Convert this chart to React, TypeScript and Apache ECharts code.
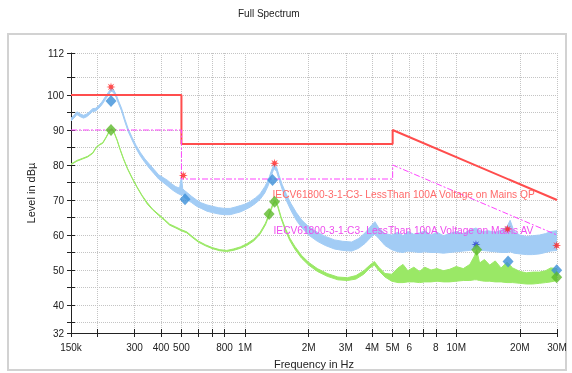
import React, { useEffect, useRef } from 'react';
import * as echarts from 'echarts';

const FONT = '"Liberation Sans", Arial, Helvetica, sans-serif';

// ---- axis ticks / labels ----
const xTickFreqs = [150e3, 200e3, 300e3, 400e3, 500e3, 600e3, 700e3, 800e3, 1e6, 2e6, 3e6, 4e6, 5e6, 6e6, 7e6, 8e6, 10e6, 20e6, 30e6];
const xLabelFreqs = [150e3, 300e3, 400e3, 500e3, 800e3, 1e6, 2e6, 3e6, 4e6, 5e6, 6e6, 8e6, 10e6, 20e6, 30e6];
const xLabelTexts = ['150k', '300', '400', '500', '800', '1M', '2M', '3M', '4M', '5M', '6', '8', '10M', '20M', '30M'];
const yTickValues = [32, 35, 40, 45, 50, 55, 60, 65, 70, 75, 80, 85, 90, 95, 100, 105, 112];
const yLabelValues = [32, 40, 50, 60, 70, 80, 90, 100, 112];

// ---- limit lines [Hz, dB] ----
const qpLimit = [[150e3, 100], [500e3, 100], [500e3, 86], [5e6, 86], [5e6, 90], [30e6, 70]];
const avLimit = [[150e3, 90], [500e3, 90], [500e3, 76], [5e6, 76], [5e6, 80], [30e6, 60]];

// ---- measured traces [Hz, low dB, high dB] ----
const qpTrace: number[][] = [
  [150e3, 92.6, 93.4], [155e3, 93.4, 94.2], [160e3, 94.4, 95.2], [166e3, 93.8, 94.6], [172e3, 93.4, 94.2],
  [178e3, 93.8, 94.6], [184e3, 94.5, 95.3], [190e3, 95.3, 96.1], [196e3, 95.4, 96.2], [203e3, 96.2, 97.0],
  [210e3, 97.2, 98.0], [218e3, 98.7, 99.5], [225e3, 99.9, 100.7], [232e3, 101.1, 101.9], [238e3, 100.8, 101.6],
  [245e3, 99.4, 100.2], [252e3, 97.5, 98.3], [260e3, 95.5, 96.3], [270e3, 92.3, 93.1], [280e3, 89.5, 90.3],
  [292e3, 87.1, 87.9], [305e3, 84.7, 85.6], [320e3, 82.5, 83.5], [336e3, 80.7, 81.7], [352e3, 79.1, 80.3],
  [370e3, 77.6, 78.8], [390e3, 76.0, 77.2], [410e3, 75.0, 76.4], [430e3, 74.0, 75.6], [450e3, 73.0, 74.6],
  [470e3, 72.2, 73.8], [490e3, 71.6, 73.4], [500e3, 71.4, 76.8], [507e3, 71.6, 73.2], [515e3, 70.8, 72.8],
  [535e3, 70.0, 72.0], [560e3, 69.2, 71.0], [590e3, 68.2, 70.0], [620e3, 67.6, 69.2], [660e3, 66.8, 68.6],
  [700e3, 66.4, 68.2], [750e3, 66.0, 67.8], [800e3, 65.8, 67.6], [850e3, 65.8, 67.6], [900e3, 66.2, 68.0],
  [950e3, 66.6, 68.4], [1.0e6, 67.2, 68.8], [1.06e6, 68.0, 69.6], [1.12e6, 69.0, 70.6], [1.18e6, 70.2, 71.8],
  [1.24e6, 72.0, 73.8], [1.29e6, 74.2, 75.8], [1.33e6, 76.8, 78.2], [1.37e6, 79.0, 80.2], [1.41e6, 78.2, 79.4],
  [1.45e6, 75.8, 77.0], [1.5e6, 73.0, 74.4], [1.57e6, 69.8, 71.6], [1.65e6, 67.0, 69.0], [1.75e6, 64.2, 66.4],
  [1.86e6, 62.0, 64.2], [2.0e6, 60.0, 62.4], [2.2e6, 58.2, 60.8], [2.4e6, 57.0, 59.6], [2.65e6, 56.0, 58.6],
  [2.9e6, 55.6, 58.2], [3.2e6, 55.4, 58.0], [3.45e6, 56.2, 59.0], [3.7e6, 57.6, 60.6], [3.95e6, 59.4, 62.6],
  [4.12e6, 60.2, 63.8], [4.3e6, 59.0, 62.0], [4.6e6, 57.0, 60.4], [4.95e6, 55.8, 60.0], [5.3e6, 55.2, 60.8],
  [5.6e6, 55.0, 59.8], [5.9e6, 55.4, 61.0], [6.3e6, 55.2, 60.2], [6.7e6, 55.0, 60.6], [7.1e6, 55.2, 61.2],
  [7.6e6, 55.0, 60.0], [8.1e6, 55.0, 60.8], [8.7e6, 54.8, 59.8], [9.3e6, 55.0, 60.4], [10e6, 55.2, 61.0],
  [10.8e6, 55.4, 60.4], [11.6e6, 55.6, 61.4], [12.4e6, 56.0, 62.0], [13.2e6, 55.6, 61.0], [14.2e6, 55.4, 61.2],
  [15.3e6, 55.2, 60.8], [16.4e6, 55.0, 61.4], [17.4e6, 55.0, 62.4], [18.0e6, 55.2, 64.2], [18.8e6, 54.8, 61.0],
  [20e6, 54.6, 60.0], [21.5e6, 54.4, 59.6], [23e6, 54.4, 59.8], [24.8e6, 54.6, 60.0], [26.5e6, 55.0, 60.4],
  [28e6, 55.4, 61.0], [30e6, 55.6, 61.2],
];
const avTrace: number[][] = [
  [150e3, 80.1, 80.3], [160e3, 81.1, 81.3], [170e3, 81.7, 81.9], [180e3, 82.3, 82.5], [190e3, 83.3, 83.5],
  [198e3, 85.0, 85.2], [205e3, 85.7, 85.9], [212e3, 86.2, 86.4], [220e3, 87.8, 88.0], [228e3, 89.6, 89.8],
  [234e3, 90.2, 90.4], [240e3, 89.2, 89.4], [248e3, 87.0, 87.2], [256e3, 84.4, 84.6], [266e3, 81.6, 81.8],
  [278e3, 78.8, 79.0], [292e3, 76.2, 76.4], [308e3, 73.6, 73.8], [325e3, 71.2, 71.4], [345e3, 68.8, 69.2],
  [365e3, 67.2, 67.4], [390e3, 65.6, 65.9], [415e3, 64.2, 64.5], [440e3, 62.8, 63.1], [470e3, 62.0, 62.3],
  [500e3, 61.2, 61.5], [530e3, 60.6, 60.9], [560e3, 59.4, 59.7], [600e3, 58.0, 58.3], [650e3, 56.9, 57.2],
  [700e3, 56.1, 56.4], [760e3, 55.5, 55.8], [820e3, 55.3, 55.6], [880e3, 55.6, 56.0], [950e3, 56.2, 56.6],
  [1.02e6, 57.0, 57.5], [1.1e6, 58.3, 58.8], [1.18e6, 60.3, 60.8], [1.25e6, 62.9, 63.4], [1.3e6, 65.6, 66.1],
  [1.35e6, 68.2, 68.7], [1.39e6, 69.6, 70.0], [1.43e6, 67.9, 68.4], [1.48e6, 64.8, 65.3], [1.55e6, 61.4, 62.0],
  [1.63e6, 58.4, 59.1], [1.72e6, 56.0, 56.8], [1.85e6, 53.4, 54.2], [2.0e6, 51.4, 52.2], [2.2e6, 49.6, 50.4],
  [2.45e6, 48.2, 49.0], [2.75e6, 47.2, 48.0], [3.05e6, 47.0, 47.8], [3.35e6, 47.4, 48.4], [3.65e6, 48.8, 49.8],
  [3.9e6, 50.6, 51.4], [4.1e6, 51.4, 52.4], [4.3e6, 49.8, 50.8], [4.6e6, 48.0, 49.0], [4.95e6, 46.8, 48.8],
  [5.3e6, 46.4, 50.6], [5.6e6, 46.4, 51.6], [5.9e6, 46.6, 49.8], [6.3e6, 46.6, 50.8], [6.7e6, 46.4, 49.6],
  [7.1e6, 46.6, 50.8], [7.6e6, 46.6, 50.0], [8.1e6, 46.8, 50.4], [8.7e6, 46.6, 49.8], [9.3e6, 46.6, 50.2],
  [10e6, 46.8, 51.0], [10.8e6, 47.0, 50.4], [11.6e6, 47.0, 51.6], [12.2e6, 47.2, 54.0], [12.5e6, 47.2, 55.8],
  [12.9e6, 47.0, 52.0], [13.6e6, 46.8, 53.0], [14.4e6, 46.8, 51.4], [15.3e6, 46.6, 52.6], [16.3e6, 46.6, 50.6],
  [17.4e6, 46.4, 52.2], [18.5e6, 46.4, 50.6], [20e6, 46.2, 49.6], [21.5e6, 46.0, 49.2], [23e6, 46.0, 49.4],
  [24.8e6, 46.2, 49.4], [26.5e6, 46.4, 49.8], [28e6, 46.6, 50.6], [30e6, 47.0, 50.4],
];

// ---- markers [Hz, dB] ----
const peakStars = [[232e3, 102.3], [510e3, 77.0], [1.38e6, 80.5], [17.5e6, 61.7], [29.9e6, 57.0]];
const blueStars = [[12.4e6, 57.3]];
const qpFinal = [[232e3, 98.3], [520e3, 70.2], [1.35e6, 75.7], [17.6e6, 52.4], [29.9e6, 49.9]];
const avFinal = [[232e3, 90.0], [1.3e6, 66.0], [1.38e6, 69.5], [12.5e6, 55.8], [29.9e6, 47.9]];

const qpLabel = 'IECV61800-3-1-C3- LessThan 100A Voltage on Mains QP';
const avLabel = 'IECV61800-3-1-C3- LessThan 100A Voltage on Mains AV';

const STAR = 'path://M20 10 L13.7 11.53 L17.07 17.07 L11.53 13.7 L10 20 L8.47 13.7 L2.93 17.07 L6.3 11.53 L0 10 L6.3 8.47 L2.93 2.93 L8.47 6.3 L10 0 L11.53 6.3 L17.07 2.93 L13.7 8.47 Z';

const toX = (f: number) => Math.log10(f);
const pts = (arr: number[][]) => arr.map((p) => [toX(p[0]), p[1]]);

function bandSeries(name: string, trace: number[][], color: string, z: number) {
  return {
    type: 'custom',
    name,
    z,
    silent: true,
    clip: true,
    encode: { x: 0, y: 1 },
    data: trace.map((r) => [toX(r[0]), r[1], r[2]]),
    renderItem: (params: any, api: any) => {
      if (params.dataIndex !== 0) return null;
      const upper = trace.map((r) => api.coord([toX(r[0]), r[2]]));
      const lower = trace.map((r) => api.coord([toX(r[0]), r[1]])).reverse();
      return {
        type: 'polygon',
        shape: { points: upper.concat(lower) },
        style: { fill: color, stroke: color, lineWidth: 1, lineJoin: 'round' },
      };
    },
  };
}

export default function App() {
  const ref = useRef<HTMLDivElement>(null);
  useEffect(() => {
    if (!ref.current) return;
    const chart = echarts.init(ref.current, null, { renderer: 'svg' });
    const xMin = toX(150e3);
    const xMax = toX(30e6);
    const axisColor = '#222';
    const gridColor = '#c4c4c4';
    const xLab = (v: number) => {
      const i = xLabelFreqs.findIndex((f) => Math.abs(toX(f) - v) < 1e-6);
      return i >= 0 ? xLabelTexts[i] : '';
    };
    chart.setOption({
      animation: false,
      textStyle: { fontFamily: FONT },
      grid: { left: 71, right: 15, top: 53, bottom: 40, outerBoundsMode: 'none', containLabel: false },
      graphic: [
        { type: 'rect', z: -10, shape: { x: 8, y: 34, width: 558, height: 336 }, style: { fill: 'none', stroke: '#d2d2d2', lineWidth: 2 } },
        { type: 'text', z: 10, x: 238, y: 8, style: { text: 'Full Spectrum', font: `10px ${FONT}`, fill: '#222' } },
        { type: 'text', z: 10, x: 272.5, y: 194, style: { text: qpLabel, font: `10.2px ${FONT}`, fill: '#ff6a6a', verticalAlign: 'middle' } },
        { type: 'text', z: 10, x: 273.5, y: 230, style: { text: avLabel, font: `10.2px ${FONT}`, fill: '#ee4cee', verticalAlign: 'middle' } },
      ],
      xAxis: [
        {
          type: 'value', min: xMin, max: xMax, position: 'bottom',
          name: 'Frequency in Hz', nameLocation: 'middle', nameGap: 25,
          nameTextStyle: { fontSize: 11, color: axisColor, fontFamily: FONT },
          axisLine: { show: true, lineStyle: { color: axisColor, width: 1 } },
          axisTick: { show: true, customValues: xTickFreqs.map(toX), length: 4, lineStyle: { color: axisColor } },
          axisLabel: { customValues: xLabelFreqs.map(toX), formatter: xLab, fontSize: 10, color: axisColor, margin: 9, fontFamily: FONT },
          splitLine: { show: true, lineStyle: { type: 'dotted', color: gridColor, width: 1 } },
        },
        {
          type: 'value', min: xMin, max: xMax, position: 'bottom',
          axisLine: { show: false },
          axisTick: { show: true, inside: true, customValues: xTickFreqs.map(toX), length: 4, lineStyle: { color: axisColor } },
          axisLabel: { show: false },
          splitLine: { show: false },
        },
      ],
      yAxis: [
        {
          type: 'value', min: 32, max: 112, position: 'left',
          name: 'Level in dBµ', nameLocation: 'middle', nameGap: 28,
          nameTextStyle: { fontSize: 11, color: axisColor, fontFamily: FONT },
          axisLine: { show: true, lineStyle: { color: axisColor, width: 1 } },
          axisTick: { show: true, customValues: yTickValues, length: 4, lineStyle: { color: axisColor } },
          axisLabel: { customValues: yLabelValues, fontSize: 10, color: axisColor, margin: 7, fontFamily: FONT },
          splitLine: { show: true, lineStyle: { type: 'dotted', color: gridColor, width: 1 } },
        },
        {
          type: 'value', min: 32, max: 112, position: 'left',
          axisLine: { show: false },
          axisTick: { show: true, inside: true, customValues: yTickValues, length: 4, lineStyle: { color: axisColor } },
          axisLabel: { show: false },
          splitLine: { show: false },
        },
      ],
      series: [
        bandSeries('QP trace', qpTrace, '#a2ccf5', 2),
        bandSeries('AV trace', avTrace, '#9ae866', 3),
        {
          type: 'line', name: 'QP limit', z: 4, data: pts(qpLimit), symbol: 'none',
          lineStyle: { color: '#ff4d4d', width: 2 },
        },
        {
          type: 'line', name: 'AV limit', z: 4, data: pts(avLimit), symbol: 'none',
          lineStyle: { color: '#ff44ff', width: 1, type: [6, 2, 2, 2] },
        },
        {
          type: 'scatter', name: 'peaks', z: 11, data: pts(blueStars), symbol: STAR, symbolSize: 9,
          itemStyle: { color: '#2a3fcf' },
        },
        {
          type: 'scatter', name: 'QP final', z: 12, data: pts(qpFinal), symbol: 'diamond', symbolSize: [11, 12],
          itemStyle: { color: '#3b8fd8' },
        },
        {
          type: 'scatter', name: 'AV final', z: 13, data: pts(avFinal), symbol: 'diamond', symbolSize: [11, 12],
          itemStyle: { color: '#5db92b' },
        },
        {
          type: 'scatter', name: 'peak stars', z: 14, data: pts(peakStars), symbol: STAR, symbolSize: 9,
          itemStyle: { color: '#ff1f1f' },
        },
      ],
    });
    return () => chart.dispose();
  }, []);
  return <div ref={ref} style={{ position: 'fixed', left: 0, top: 0, width: 572, height: 373 }} />;
}
